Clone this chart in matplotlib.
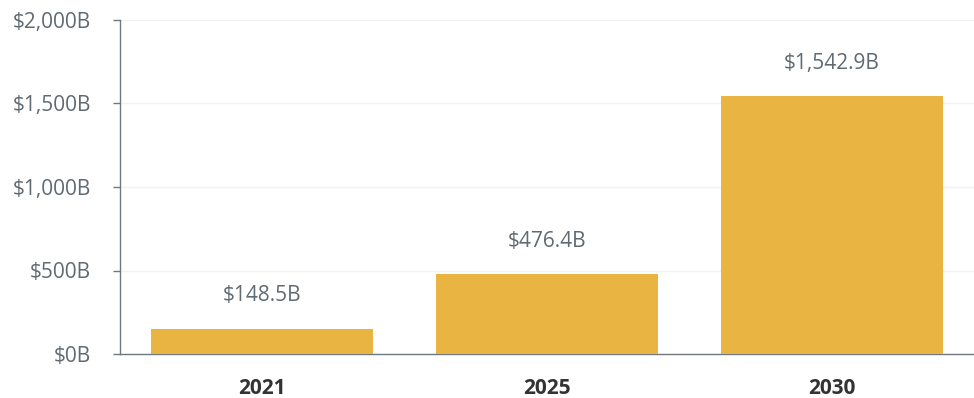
import matplotlib.pyplot as plt

# Market size by year
years = ['2021', '2025', '2030']
values = [148.5, 476.4, 1542.9]
labels = ['$148.5B', '$476.4B', '$1,542.9B']
yticks = [0, 500, 1000, 1500, 2000]
ytick_labels = ['$0B', '$500B', '$1,000B', '$1,500B', '$2,000B']

plt.rcParams['font.family'] = ['Open Sans', 'DejaVu Sans']

fig = plt.figure(figsize=(9.74, 3.98), dpi=100)
ax = fig.add_axes([120 / 974, 44 / 398, 1 - 120 / 974, 334 / 398])

x = range(len(years))
bars = ax.bar(x, values, width=0.78, color='#E9B441', zorder=3)

for b, lab in zip(bars, labels):
    ax.annotate(lab, (b.get_x() + b.get_width() / 2, b.get_height()),
                xytext=(0, 24), textcoords='offset points',
                ha='center', va='center', fontsize=15, color='#606a72')

ax.set_xlim(-0.5, 2.5)
ax.set_ylim(0, 2000)
ax.set_xticks(list(x))
ax.set_xticklabels(years, fontsize=15, fontweight='bold', color='#333333')
ax.set_yticks(yticks)
ax.set_yticklabels(ytick_labels, fontsize=15, color='#606a72')

ax.tick_params(axis='x', length=0, pad=17)
ax.tick_params(axis='y', length=5, width=1, color='#6f7880', pad=16)

ax.grid(axis='y', color='#f2f2f2', linewidth=1, zorder=0)
for s in ['top', 'right']:
    ax.spines[s].set_visible(False)
for s in ['left', 'bottom']:
    ax.spines[s].set_color('#6f7880')
    ax.spines[s].set_linewidth(1)

fig.savefig('out.png', dpi=100)
